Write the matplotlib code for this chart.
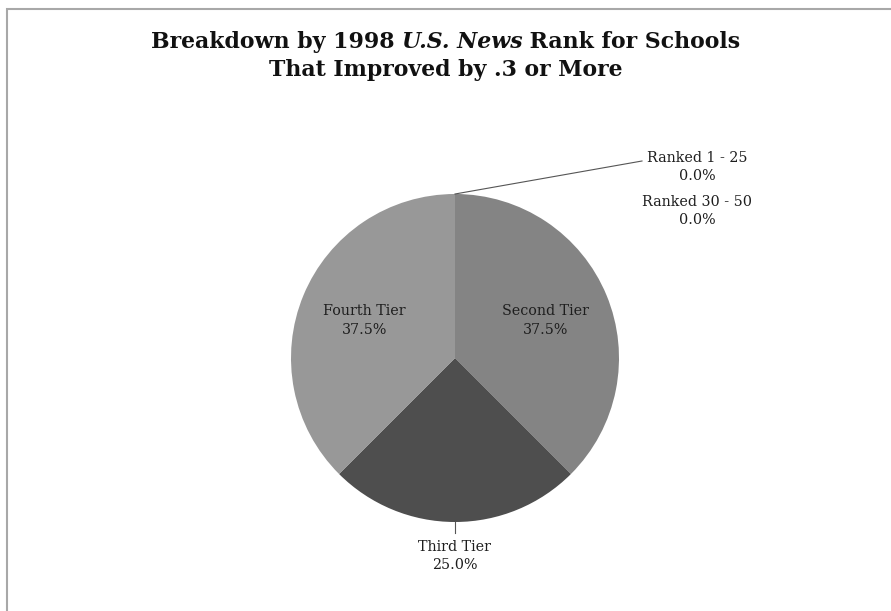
import numpy as np
import matplotlib
matplotlib.use("Agg")
import matplotlib.pyplot as plt
from matplotlib.patches import Rectangle

# data (clockwise from 12 o'clock)
labels = ["Ranked 1 - 25", "Ranked 30 - 50", "Second Tier", "Third Tier", "Fourth Tier"]
shares = [0.0, 0.0, 37.5, 25.0, 37.5]
colors = ["#b0b0b0", "#c0c0c0", "#848484", "#4e4e4e", "#989898"]

plt.rcParams['font.family'] = 'DejaVu Serif'

W, H = 891, 611
fig = plt.figure(figsize=(W / 100, H / 100), dpi=100)
ax = fig.add_axes([0, 0, 1, 1])

# frame line along top and left
fig.patches.append(Rectangle((7 / W, -0.1), 1.2, (H - 9) / H + 0.1, transform=fig.transFigure,
                             fill=False, edgecolor='#a8a8a8', lw=1.5))

cx, cy, r = 455, 358, 164
# y axis inverted -> counterclock=True draws clockwise on screen
wedges, _ = ax.pie(shares, colors=colors, startangle=-90, counterclock=True,
                   center=(cx, cy), radius=r, frame=True,
                   wedgeprops=dict(linewidth=0))
ax.set_xlim(0, W)
ax.set_ylim(H, 0)
ax.set_aspect('equal')
ax.axis('off')

txt = dict(ha='center', va='center', fontsize=10.3, color='#1e1e1e', linespacing=1.4)

for w, lab, val in zip(wedges, labels, shares):
    mid = np.deg2rad((w.theta1 + w.theta2) / 2)
    s = f"{lab}\n{val:.1f}%"
    if lab in ("Second Tier", "Fourth Tier"):
        d = 0.6 * r
        ax.text(cx + d * np.cos(mid), cy + d * np.sin(mid), s, **txt)
    elif lab == "Third Tier":
        ax.plot([cx, cx], [cy + r, cy + r + 11], color='#555555', lw=0.8)
        ax.text(cx, cy + r + 34, s, **txt)

# zero-share slices, labelled off to the right
ax.plot([cx, 642], [cy - r, 161], color='#555555', lw=0.8)
ax.text(697, 167, f"{labels[0]}\n{shares[0]:.1f}%", **txt)
ax.text(697, 211, f"{labels[1]}\n{shares[1]:.1f}%", **txt)

# title, first line mixes upright and italic pieces
tstyle = dict(fontsize=15.8, fontweight='bold', color='#111111', va='center')
pieces = [("Breakdown by 1998 ", 'normal'), ("U.S. News", 'italic'), (" Rank for Schools", 'normal')]
y1 = 1 - 42 / H
renderer = fig.canvas.get_renderer()
objs, widths = [], []
for s, st in pieces:
    t = fig.text(0, y1, s, ha='left', style=st, **tstyle)
    widths.append(t.get_window_extent(renderer).width)
    objs.append(t)
x = (W - sum(widths)) / 2
for t, wd in zip(objs, widths):
    t.set_x(x / W)
    x += wd
fig.text(0.5, 1 - 70 / H, 'That Improved by .3 or More', ha='center', **tstyle)

fig.savefig('out.png', dpi=100)
